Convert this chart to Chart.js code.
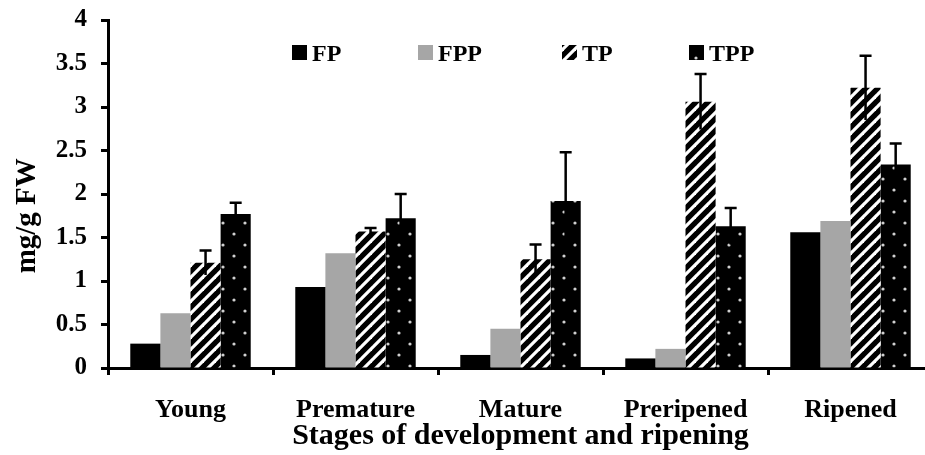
<!DOCTYPE html>
<html>
<head>
<meta charset="utf-8">
<script src="https://cdn.jsdelivr.net/npm/chart.js@4.4.1/dist/chart.umd.min.js"></script>
<style>
  html, body { margin: 0; padding: 0; background: #fff; overflow: hidden; width: 925px; height: 455px; }
  #chart { display: block; }
</style>
</head>
<body>
<canvas id="chart" width="933" height="455"></canvas>
<script>
// valores (mg/g FW)
const stages = ['Young', 'Premature', 'Mature', 'Preripened', 'Ripened'];
const fpValues = [0.28, 0.93, 0.15, 0.11, 1.56];
const fppValues = [0.63, 1.32, 0.45, 0.22, 1.69];
const tpValues = [1.21, 1.57, 1.25, 3.06, 3.22];
const tppValues = [1.77, 1.72, 1.92, 1.63, 2.34];
const tpErrors = [0.14, 0.04, 0.17, 0.32, 0.37];
const tppErrors = [0.13, 0.28, 0.56, 0.21, 0.24];
const yTicks = [0, 0.5, 1, 1.5, 2, 2.5, 3, 3.5, 4];

const serif = "'Liberation Serif', 'Times New Roman', serif";

function stripePattern() {
    const c = document.createElement('canvas');
    c.width = 12; c.height = 12;
    const g = c.getContext('2d');
    g.fillStyle = '#000';
    g.fillRect(0, 0, 12, 12);
    g.strokeStyle = '#fff';
    g.lineWidth = 3.2;
    [[-6, 6, 6, -6], [0, 12, 12, 0], [6, 18, 18, 6]].forEach(l => {
        g.beginPath(); g.moveTo(l[0], l[1]); g.lineTo(l[2], l[3]); g.stroke();
    });
    return g.createPattern(c, 'repeat');
}

function dotPattern() {
    const c = document.createElement('canvas');
    c.width = 22; c.height = 22;
    const g = c.getContext('2d');
    g.fillStyle = '#000';
    g.fillRect(0, 0, 22, 22);
    g.fillStyle = '#d0d0d0';
    [[3, 3], [14, 14]].forEach(p => {
        g.beginPath(); g.arc(p[0], p[1], 1.6, 0, Math.PI * 2); g.fill();
    });
    return g.createPattern(c, 'repeat');
}

const errorBars = {
    id: 'errorBars',
    afterDatasetsDraw(chart) {
        const ctx = chart.ctx;
        const y = chart.scales.y;
        ctx.save();
        ctx.strokeStyle = '#000';
        ctx.lineWidth = 2.5;
        chart.data.datasets.forEach((ds, i) => {
            if (!ds.errors) return;
            chart.getDatasetMeta(i).data.forEach((bar, j) => {
                const v = ds.data[j], e = ds.errors[j];
                const top = y.getPixelForValue(v + e);
                const bot = y.getPixelForValue(v - e);
                ctx.beginPath();
                ctx.moveTo(bar.x, bot); ctx.lineTo(bar.x, top);
                ctx.moveTo(bar.x - 6, top); ctx.lineTo(bar.x + 6, top);
                ctx.stroke();
            });
        });
        ctx.restore();
    }
};

const customLegend = {
    id: 'customLegend',
    afterDraw(chart, args, opts) {
        const ctx = chart.ctx;
        ctx.save();
        ctx.font = 'bold 24px ' + serif;
        ctx.textBaseline = 'alphabetic';
        chart.data.datasets.forEach((ds, i) => {
            const x = opts.positions[i];
            ctx.fillStyle = ds.backgroundColor;
            ctx.fillRect(x, 45, 15, 15);
            ctx.fillStyle = '#000';
            ctx.fillText(ds.label, x + 20, 61);
        });
        ctx.restore();
    }
};

new Chart(document.getElementById('chart'), {
    type: 'bar',
    data: {
        labels: stages,
        datasets: [
            { label: 'FP', data: fpValues, backgroundColor: '#000' },
            { label: 'FPP', data: fppValues, backgroundColor: '#a6a6a6' },
            { label: 'TP', data: tpValues, errors: tpErrors, backgroundColor: stripePattern() },
            { label: 'TPP', data: tppValues, errors: tppErrors, backgroundColor: dotPattern() }
        ]
    },
    options: {
        responsive: false,
        animation: false,
        events: [],
        layout: { padding: { top: 20, right: 0, left: 0, bottom: 0 } },
        datasets: { bar: { categoryPercentage: 0.73, barPercentage: 1.0, borderWidth: 0 } },
        plugins: {
            legend: { display: false },
            tooltip: { enabled: false },
            customLegend: { positions: [292, 418, 562, 689] }
        },
        scales: {
            x: {
                grid: { drawOnChartArea: false, drawTicks: true, tickLength: 7, tickWidth: 3, color: '#000', offset: true },
                border: { display: true, width: 3, color: '#000' },
                ticks: { color: '#000', font: { family: serif, weight: 'bold', size: 26 }, padding: 20, maxRotation: 0 },
                title: { display: true, text: 'Stages of development and ripening', color: '#000',
                         font: { family: serif, weight: 'bold', size: 30 }, padding: { top: 0, bottom: 1 } },
                afterFit: (s) => { s.height = 87; }
            },
            y: {
                min: 0, max: 4,
                afterBuildTicks: (s) => { s.ticks = yTicks.map(v => ({ value: v })); },
                grid: { drawOnChartArea: false, drawTicks: true, tickLength: 7, tickWidth: 3, color: '#000' },
                border: { display: true, width: 3, color: '#000' },
                ticks: { color: '#000', font: { family: serif, weight: 'bold', size: 25 }, padding: 14,
                         callback: (v) => String(v) },
                // espaços no fim empurram o texto para baixo, como no original
                title: { display: true, text: 'mg/g FW      ', color: '#000',
                         font: { family: serif, weight: 'bold', size: 29 }, padding: { top: 10, bottom: 0 } },
                afterFit: (s) => { s.width = 108; s.paddingTop = 0; s.paddingBottom = 0; }
            }
        }
    },
    plugins: [errorBars, customLegend]
});
</script>
</body>
</html>
